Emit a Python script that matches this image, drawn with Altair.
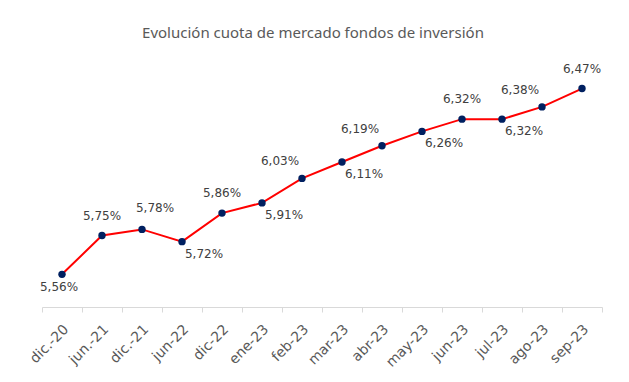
import altair as alt
import pandas as pd

months = ["dic.-20", "jun.-21", "dic.-21", "jun-22", "dic-22", "ene-23", "feb-23",
          "mar-23", "abr-23", "may-23", "jun-23", "jul-23", "ago-23", "sep-23"]
share = [5.56, 5.75, 5.78, 5.72, 5.86, 5.91, 6.03, 6.11, 6.19, 6.26, 6.32, 6.32, 6.38, 6.47]
placement = ["below", "above", "above-right", "below-right", "above", "below-right", "above-left",
             "below-right", "above-left", "below-right", "above", "below-right", "above-left", "above"]

offsets = {
    "above": (0, -20),
    "above-left": (-22, -17),
    "above-right": (13, -21),
    "below": (-3, 13),
    "below-right": (22, 12),
}

df = pd.DataFrame({"mes": months, "cuota": share, "pos": placement})
df["idx"] = range(len(months))
df["etiqueta"] = [f"{v:.2f}".replace(".", ",") + "%" for v in share]

label_array = "[" + ",".join(f"'{m}'" for m in months) + "]"

x_enc = alt.X(
    "idx:Q",
    scale=alt.Scale(domain=[-0.5, len(months) - 0.5], nice=False, zero=False),
    axis=alt.Axis(
        values=[i - 0.5 for i in range(len(months) + 1)],
        labelExpr=f"{label_array}[datum.value + 0.5] || ''",
        labelOffset=19,
        labelAngle=-45,
        labelOverlap=False,
        labelFont="DejaVu Sans",
        labelFontSize=14,
        labelColor="#595959",
        labelPadding=10,
        domainColor="#d9d9d9",
        tickColor="#d9d9d9",
        tickSize=5,
        grid=False,
        title=None,
    ),
)
y_enc = alt.Y("cuota:Q", scale=alt.Scale(domain=[5.4, 6.6], zero=False, nice=False), axis=None)

base = alt.Chart(df).encode(x=x_enc, y=y_enc)

line = base.mark_line(color="#ff0000", strokeWidth=2)
pts = base.mark_circle(color="#002060", size=55, opacity=1)

layers = [line, pts]
for p, (dx, dy) in offsets.items():
    layers.append(
        base.transform_filter(alt.datum.pos == p)
        .mark_text(font="DejaVu Sans", fontSize=12, color="#404040", dx=dx, dy=dy)
        .encode(text="etiqueta:N")
    )

chart = (
    alt.layer(*layers)
    .properties(
        width=560,
        height=245,
        autosize=alt.AutoSizeParams(type="none"),
        padding={"left": 34, "top": 54, "right": 19, "bottom": 65},
        title=alt.TitleParams(
            "Evolución cuota de mercado fondos de inversión",
            font="Noto Sans",
            fontSize=15,
            fontWeight="normal",
            color="#595959",
            anchor="middle",
            dx=-9,
            offset=21,
        ),
    )
    .configure_view(stroke=None)
)

chart.save("out.html", embed_options={"renderer": "svg", "actions": False})
